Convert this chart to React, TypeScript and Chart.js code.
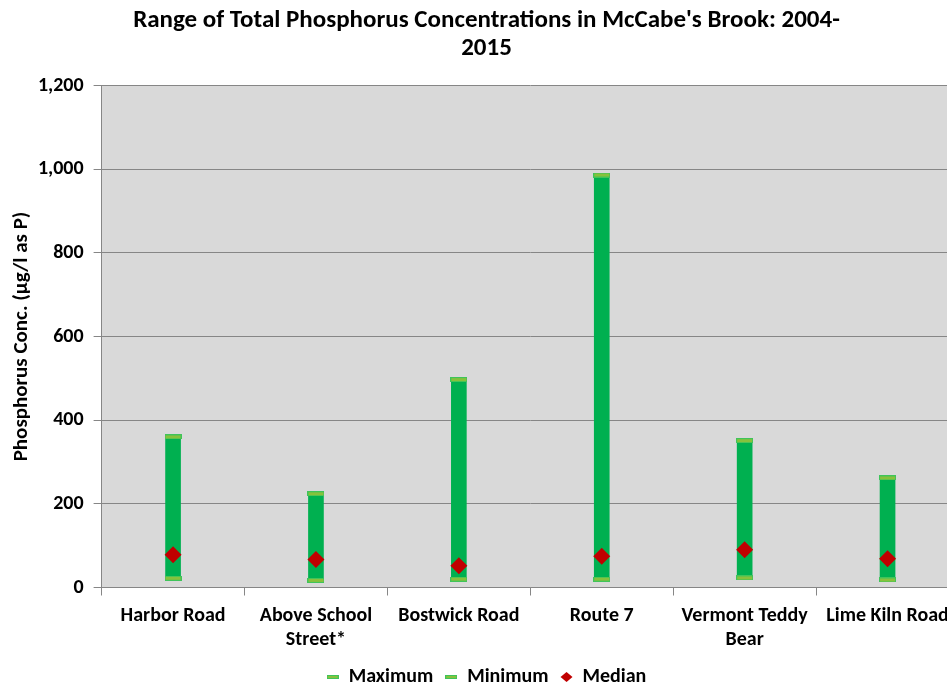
import React, { useEffect, useRef } from "react";
import { Chart, registerables } from "chart.js";

Chart.register(...registerables);

const categories: (string | string[])[] = [
  "Harbor Road",
  ["Above School", "Street*"],
  "Bostwick Road",
  "Route 7",
  ["Vermont Teddy", "Bear"],
  "Lime Kiln Road",
];
const maximum = [360, 224, 497, 986, 351, 262];
const minimum = [22, 17, 20, 20, 23, 18];
const median = [78, 67, 52, 75, 90, 69];
const yTicks = [0, 200, 400, 600, 800, 1000, 1200];

const FONT = "Carlito, Lato, 'Open Sans', sans-serif";

function makeCap(w: number, h: number): HTMLCanvasElement {
  const c = document.createElement("canvas");
  c.width = w;
  c.height = h;
  const ctx = c.getContext("2d")!;
  ctx.fillStyle = "#3fc45a";
  ctx.fillRect(0, 0, w, h);
  ctx.fillStyle = "#86c23c";
  ctx.fillRect(1, 1, w - 2, h - 2);
  return c;
}

export default function App() {
  const ref = useRef<HTMLCanvasElement>(null);
  useEffect(() => {
    const cap = makeCap(17, 5);
    const legendCap = makeCap(12, 4);
    const bgPlugin = {
      id: "plotBg",
      beforeDraw(chart: any) {
        const { ctx, chartArea } = chart;
        ctx.save();
        ctx.fillStyle = "#d9d9d9";
        ctx.fillRect(chartArea.left, chartArea.top, chartArea.right - chartArea.left, chartArea.bottom - chartArea.top);
        ctx.restore();
      },
    };
    const chart = new Chart(ref.current!, {
      type: "bar",
      data: {
        labels: categories,
        datasets: [
          {
            type: "line",
            label: "Maximum",
            data: maximum,
            showLine: false,
            pointStyle: cap as any,
            pointRadius: 8,
            backgroundColor: "#86c23c",
            borderColor: "#3fc45a",
          },
          {
            type: "line",
            label: "Minimum",
            data: minimum,
            showLine: false,
            pointStyle: cap as any,
            pointRadius: 8,
            backgroundColor: "#86c23c",
            borderColor: "#3fc45a",
          },
          {
            type: "line",
            label: "Median",
            data: median,
            showLine: false,
            pointStyle: "rectRot",
            pointRadius: 8.5,
            pointBorderWidth: 0,
            backgroundColor: "#c00000",
            borderColor: "#c00000",
          },
          {
            type: "bar",
            label: "Range",
            data: minimum.map((m, i) => [m, maximum[i]]) as any,
            backgroundColor: "#00b050",
            borderWidth: 0,
            barThickness: 15,
          },
        ],
      },
      options: {
        animation: false,
        responsive: false,
        layout: { padding: { left: 9, right: 4, top: 0, bottom: -13 } },
        plugins: {
          tooltip: { enabled: false },
          title: {
            display: true,
            text: ["Range of Total Phosphorus Concentrations in McCabe's Brook: 2004-", "2015"],
            color: "#000",
            font: { family: FONT, size: 25, weight: "bold", lineHeight: 1.15 },
            padding: { top: 6, bottom: 22 },
          },
          legend: {
            position: "bottom",
            labels: {
              color: "#000",
              font: { family: FONT, size: 20, weight: "bold" },
              usePointStyle: true,
              pointStyleWidth: 12,
              boxHeight: 7,
              padding: 12,
              generateLabels(chart: any) {
                const items = Chart.defaults.plugins.legend.labels.generateLabels(chart);
                return items
                  .filter((it: any) => it.text !== "Range")
                  .map((it: any) => {
                    if (it.text === "Maximum" || it.text === "Minimum") it.pointStyle = legendCap;
                    return it;
                  });
              },
            },
          },
        },
        scales: {
          x: {
            afterFit(scale: any) {
              scale.height -= 4.5;
            },
            grid: {
              offset: true,
              drawOnChartArea: false,
              color: "#868686",
              tickLength: 8,
            },
            border: { color: "#868686" },
            ticks: {
              color: "#000",
              font: { family: FONT, size: 20, weight: "bold", lineHeight: 1.2 },
              maxRotation: 0,
              autoSkip: false,
              padding: 8,
            },
          },
          y: {
            min: 0,
            max: 1200,
            afterBuildTicks(scale: any) {
              scale.ticks = yTicks.map((v) => ({ value: v }));
            },
            grid: { color: "#868686", tickLength: 8 },
            border: { color: "#868686" },
            ticks: {
              color: "#000",
              font: { family: FONT, size: 20, weight: "bold" },
              padding: 10,
              callback: (v: any) => Number(v).toLocaleString("en-US"),
            },
            title: {
              display: true,
              text: "Phosphorus Conc. (µg/l as P)",
              color: "#000",
              font: { family: FONT, size: 21, weight: "bold" },
              padding: { top: 0, bottom: -6.3 },
            },
          },
        },
      },
      plugins: [bgPlugin],
    } as any);
    return () => chart.destroy();
  }, []);
  return (
    <div style={{ position: "absolute", left: 0, top: 0, width: 947, height: 684, overflow: "hidden", background: "#fff" }}>
      <canvas ref={ref} width={968} height={684} style={{ display: "block" }} />
    </div>
  );
}
